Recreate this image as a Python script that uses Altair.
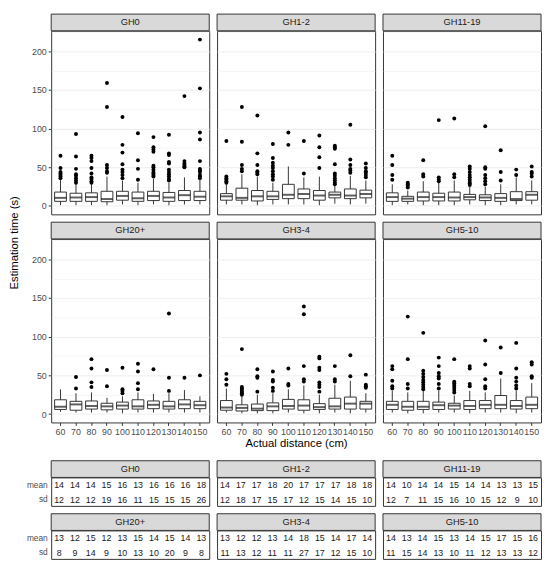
import altair as alt
import pandas as pd

GROUPS = ["GH0", "GH1-2", "GH11-19", "GH20+", "GH3-4", "GH5-10"]
DIST = [60, 70, 80, 90, 100, 110, 120, 130, 140, 150]

# box statistics (seconds), one value per distance
LOW = {
    "GH0": [1, 1, 1, 1, 2, 1, 2, 1, 2, 2],
    "GH1-2": [2, 2, 1, 2, 2, 2, 1, 3, 2, 3],
    "GH11-19": [1, 2, 1, 1, 1, 2, 1, 1, 2, 2],
    "GH20+": [3, 2, 2, 2, 1, 2, 2, 2, 2, 2],
    "GH3-4": [2, 1, 1, 1, 2, 1, 1, 2, 1, 2],
    "GH5-10": [2, 1, 1, 2, 2, 1, 2, 2, 1, 2],
}
Q1 = {
    "GH0": [6, 6, 6, 5.5, 7.5, 6, 7, 6, 7, 7],
    "GH1-2": [7.5, 7.5, 6.5, 8.5, 9.5, 9.5, 7.5, 10.5, 9.5, 10.5],
    "GH11-19": [6, 6, 6.5, 6.5, 6.5, 8, 7, 6, 7, 7.5],
    "GH20+": [6, 5, 6.5, 5.5, 6.5, 6.5, 7, 6.5, 7, 7],
    "GH3-4": [5, 4, 4.5, 4.5, 6.5, 5, 6, 6.5, 6.5, 6.5],
    "GH5-10": [6, 5, 6, 6, 6.5, 6, 7, 7, 6.5, 7],
}
MEDIAN = {
    "GH0": [10.5, 11, 11.5, 9, 13, 10, 13, 11, 14, 12],
    "GH1-2": [12.5, 10.5, 12.5, 12.5, 14.5, 15.5, 13.5, 14.5, 13.5, 15.5],
    "GH11-19": [11.5, 9.5, 11.5, 11.5, 11, 11.5, 11, 10.5, 9, 14.5],
    "GH20+": [9.5, 12.5, 10.5, 10, 11, 10, 12, 10, 12.5, 11.5],
    "GH3-4": [8.5, 8, 7, 10, 10.5, 11, 9, 10, 13.5, 13.5],
    "GH5-10": [12, 9.5, 9.5, 11.5, 11, 10.5, 12, 12, 10.5, 12],
}
Q3 = {
    "GH0": [18, 16.5, 17, 19, 19, 18, 19, 17.5, 20, 19],
    "GH1-2": [16, 23, 20, 19, 28, 22, 20, 18, 22, 20.5],
    "GH11-19": [17, 12.5, 18, 16.5, 18, 15, 14.5, 16, 18.5, 18.5],
    "GH20+": [18.5, 16.5, 17, 14, 15.5, 18.5, 17, 16.5, 18.5, 16.5],
    "GH3-4": [17.5, 12, 13, 14.5, 19, 18.5, 13.5, 20.5, 22, 16.5],
    "GH5-10": [16.5, 16.5, 16.5, 15.5, 14, 17.5, 17.5, 24, 17.5, 22],
}
HIGH = {
    "GH0": [34, 28, 28, 38, 33, 30, 35, 30, 37, 35],
    "GH1-2": [28, 41, 38, 30, 51, 37, 38, 26, 39, 33],
    "GH11-19": [28, 20, 32, 30, 33, 25, 25, 28, 37, 33],
    "GH20+": [32, 27, 28, 21, 23, 28, 26, 27, 31, 23],
    "GH3-4": [33, 23, 25, 27, 32, 37, 25, 38, 43, 27],
    "GH5-10": [30, 28, 30, 30, 24, 30, 28, 46, 30, 40],
}
# points beyond the whiskers, one list per distance
OUTLIERS = {
    "GH0": [
        [36, 38, 40, 42, 44, 49, 65],
        [30, 33, 36, 39, 41, 48, 64, 93],
        [30, 32, 35, 37, 42, 49, 58, 62, 65],
        [43, 45, 49, 53, 128, 159],
        [36, 40, 44, 47, 54, 69, 79, 115],
        [34, 48, 59, 94],
        [38, 40, 42, 44, 47, 50, 52, 70, 73, 76, 89],
        [33, 35, 38, 41, 44, 47, 55, 57, 66, 68, 92],
        [50, 51, 53, 55, 58, 142],
        [36, 38, 40, 44, 46, 48, 58, 86, 95, 152, 215],
    ],
    "GH1-2": [
        [30, 32, 34, 36, 38, 84],
        [45, 48, 53, 83, 128],
        [41, 43, 45, 53, 68, 117],
        [34, 38, 41, 45, 49, 52, 56, 62, 80],
        [79, 95],
        [42, 84],
        [49, 63, 76, 91],
        [28, 30, 33, 36, 39, 42, 54, 74, 76, 78],
        [43, 46, 48, 53, 60, 105],
        [37, 40, 43, 45, 49, 55],
    ],
    "GH11-19": [
        [34, 40, 53, 65],
        [24, 26, 28, 30],
        [38, 41, 59],
        [32, 34, 37, 111],
        [37, 41, 113],
        [27, 29, 31, 34, 37, 40, 44, 48, 51],
        [28, 32, 36, 40, 48, 50, 103],
        [33, 44, 72],
        [40, 47],
        [38, 42, 44, 51],
    ],
    "GH20+": [
        [],
        [33, 48],
        [35, 41, 59, 71],
        [36, 57],
        [27, 30, 32, 60],
        [32, 40, 55, 65],
        [58],
        [30, 47, 130],
        [47],
        [50],
    ],
    "GH3-4": [
        [38, 45, 52],
        [25, 27, 29, 31, 33, 35, 84],
        [29, 47, 49, 58],
        [30, 34, 42, 44, 55],
        [37, 39, 59],
        [42, 45, 62, 129, 139],
        [29, 35, 38, 41, 57, 60, 72, 74],
        [42, 45, 62],
        [49, 76],
        [34, 36, 38, 51],
    ],
    "GH5-10": [
        [33, 36, 43, 58, 62],
        [33, 39, 71, 126],
        [32, 35, 38, 41, 44, 48, 52, 56, 105],
        [33, 39, 46, 49, 53, 62, 73],
        [28, 31, 34, 37, 40, 42, 71],
        [36, 39, 59, 62],
        [33, 36, 45, 64, 95],
        [53, 86],
        [33, 37, 42, 47, 59, 92],
        [47, 49, 64, 67],
    ],
}
# summary table under the plot
MEAN = {
    "GH0": [14, 14, 14, 15, 16, 13, 16, 16, 16, 18],
    "GH1-2": [14, 17, 17, 18, 20, 17, 17, 17, 18, 18],
    "GH11-19": [14, 10, 14, 14, 15, 14, 14, 13, 13, 15],
    "GH20+": [13, 12, 15, 12, 13, 15, 14, 15, 14, 13],
    "GH3-4": [13, 12, 12, 13, 14, 18, 15, 14, 17, 14],
    "GH5-10": [14, 13, 14, 15, 13, 14, 15, 17, 15, 16],
}
SD = {
    "GH0": [12, 12, 12, 19, 16, 11, 15, 15, 15, 26],
    "GH1-2": [12, 18, 17, 15, 17, 12, 15, 14, 15, 10],
    "GH11-19": [12, 7, 11, 15, 16, 10, 15, 12, 9, 10],
    "GH20+": [8, 9, 14, 9, 10, 13, 10, 20, 9, 8],
    "GH3-4": [11, 13, 12, 11, 11, 27, 17, 12, 15, 10],
    "GH5-10": [11, 15, 14, 13, 10, 11, 12, 13, 13, 12],
}
Y_BREAKS = [0, 25, 50, 75, 100, 125, 150, 175, 200, 225]

rows, pts, tab = [], [], []
for g in GROUPS:
    for i, d in enumerate(DIST):
        rows.append(dict(group=g, dist=d, lo=LOW[g][i], q1=Q1[g][i], med=MEDIAN[g][i],
                         q3=Q3[g][i], hi=HIGH[g][i]))
        for v in OUTLIERS[g][i]:
            pts.append(dict(group=g, dist=d, val=v))
        tab.append(dict(group=g, dist=d, stat="mean", value=MEAN[g][i]))
        tab.append(dict(group=g, dist=d, stat="sd", value=SD[g][i]))
stats = pd.DataFrame(rows)
outl = pd.DataFrame(pts)
table = pd.DataFrame(tab)

W, H = 161, 187
STRIP_H, TAB_STRIP_H, TAB_H = 17, 17, 29
GAP = 6
BOX_W = 12
AXIS_W = 22
FONT = "Liberation Sans"
BORDER = "#333333"
GRID = "#EBEBEB"
LABEL = "#4D4D4D"
MAJOR = "datum.value % 50 === 0"

XSCALE = alt.Scale(domain=DIST, paddingInner=0, paddingOuter=0.1)
YSCALE = alt.Scale(domain=[-10.8, 226.4], nice=False, zero=False)


def strip_layers(g, h):
    one = alt.Chart(pd.DataFrame({"g": [g]}))
    band = one.mark_rect(fill="#D9D9D9", stroke=BORDER, strokeWidth=1).encode(
        x=alt.value(0), x2=alt.value(W), y=alt.value(-h), y2=alt.value(0))
    label = one.mark_text(font=FONT, fontSize=9.5, color="#1A1A1A").encode(
        x=alt.value(W / 2), y=alt.value(-h / 2), text="g:N")
    return [band, label]


def box_panel(g, left, bottom, xtitle=None):
    if bottom:
        xaxis = alt.Axis(title=xtitle, labelAngle=0, labelOverlap=False, labelFontSize=9,
                         labelColor=LABEL, labelPadding=2, tickSize=3, tickColor=BORDER,
                         domain=False, gridColor=GRID, gridWidth=0.9, bandPosition=0.5,
                         titleFontSize=11.5, titleFontWeight="normal", titleColor="black",
                         titlePadding=1)
    else:
        xaxis = alt.Axis(title=None, labels=False, ticks=False, domain=False,
                         gridColor=GRID, gridWidth=0.9, bandPosition=0.5)
    grid_w = {"condition": {"test": MAJOR, "value": 0.9}, "value": 0.45}
    if left:
        yaxis = alt.Axis(title=None, values=Y_BREAKS,
                         labelExpr=f"{MAJOR} ? datum.label : ''",
                         tickOpacity={"condition": {"test": MAJOR, "value": 1}, "value": 0},
                         gridWidth=grid_w, gridColor=GRID, tickSize=3, tickColor=BORDER,
                         labelColor=LABEL, labelFontSize=9, labelPadding=2, domain=False,
                         minExtent=AXIS_W, maxExtent=AXIS_W)
    else:
        yaxis = alt.Axis(title=None, values=Y_BREAKS, labels=False, ticks=False,
                         domain=False, gridWidth=grid_w, gridColor=GRID,
                         minExtent=0, maxExtent=0)

    x = alt.X("dist:O", scale=XSCALE, axis=xaxis)

    def yq(field):
        return alt.Y(f"{field}:Q", scale=YSCALE, axis=yaxis)

    base = alt.Chart(stats[stats.group == g])
    whisker = base.mark_rule(color=BORDER, strokeWidth=1).encode(x=x, y=yq("lo"), y2="hi:Q")
    box = base.mark_bar(size=BOX_W, fill="white", stroke=BORDER, strokeWidth=1).encode(
        x=x, y=yq("q1"), y2="q3:Q")
    med = base.mark_tick(size=BOX_W, thickness=2, color="#1A1A1A").encode(x=x, y=yq("med"))
    dots = alt.Chart(outl[outl.group == g]).mark_circle(size=16, color="black", opacity=1).encode(
        x=x, y=yq("val"))
    return alt.layer(*strip_layers(g, STRIP_H), whisker, box, med, dots).properties(width=W, height=H)


def table_panel(g, left):
    if left:
        yaxis = alt.Axis(title=None, ticks=False, domain=False, grid=False, labelColor=LABEL,
                         labelFontSize=8.5, labelPadding=4, minExtent=AXIS_W, maxExtent=AXIS_W)
    else:
        yaxis = alt.Axis(title=None, labels=False, ticks=False, domain=False, grid=False,
                         minExtent=0, maxExtent=0)
    body = alt.Chart(table[table.group == g]).mark_text(
        font=FONT, fontSize=9, color="#1A1A1A", dy=1).encode(
        x=alt.X("dist:O", scale=XSCALE,
                axis=alt.Axis(title=None, labels=False, ticks=False, domain=False,
                              gridColor="#EFEFEF", gridWidth=0.6, bandPosition=0)),
        y=alt.Y("stat:N", scale=alt.Scale(domain=["mean", "sd"], paddingInner=0, paddingOuter=0.3),
                axis=yaxis),
        text="value:Q",
    )
    return alt.layer(*strip_layers(g, TAB_STRIP_H), body).properties(width=W, height=TAB_H)


row1 = alt.hconcat(*[box_panel(g, i == 0, False) for i, g in enumerate(GROUPS[:3])], spacing=GAP)
row2 = alt.hconcat(
    box_panel(GROUPS[3], True, True),
    box_panel(GROUPS[4], False, True, "Actual distance (cm)"),
    box_panel(GROUPS[5], False, True),
    spacing=GAP,
)
boxes = alt.vconcat(row1, row2, spacing=GAP)

trow1 = alt.hconcat(*[table_panel(g, i == 0) for i, g in enumerate(GROUPS[:3])], spacing=GAP)
trow2 = alt.hconcat(*[table_panel(g, i == 0) for i, g in enumerate(GROUPS[3:])], spacing=GAP)
tables = alt.vconcat(trow1, trow2, spacing=6)

# shared y title: an axis title on a blank strip as tall as both panel rows
panels_h = STRIP_H + 2 * H + GAP + STRIP_H
ytitle = alt.Chart(pd.DataFrame({"t": ["a"]})).mark_point(opacity=0).encode(
    y=alt.Y("t:N", axis=alt.Axis(title="Estimation time (s)", labels=False, ticks=False,
                                 domain=False, grid=False, minExtent=0, maxExtent=0,
                                 titlePadding=1, titleFontSize=11.5, titleFontWeight="normal",
                                 titleColor="black"))
).properties(width=1, height=STRIP_H + panels_h, view=alt.ViewBackground(stroke="transparent"))

chart = alt.hconcat(
    ytitle,
    alt.vconcat(boxes, tables, spacing=11),
    spacing=1,
).properties(padding=0).configure_view(stroke=BORDER, strokeWidth=1).configure_axis(
    labelFont=FONT, titleFont=FONT)

chart.save("out.html", embed_options={"renderer": "svg", "actions": False})
